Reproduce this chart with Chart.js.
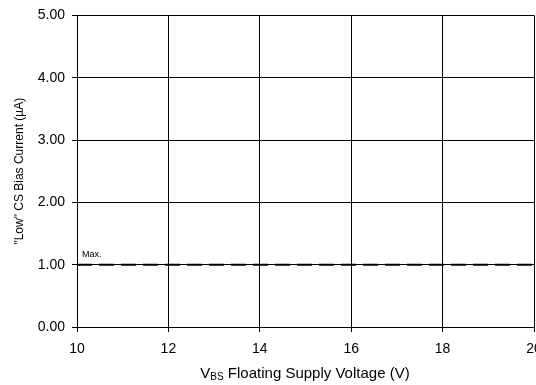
<!DOCTYPE html>
<html lang="en">
<head>
  <meta charset="UTF-8">
  <title>Low CS Bias Current vs VBS</title>
  <script src="https://cdn.jsdelivr.net/npm/chart.js"></script>
  <style>
    html, body { margin: 0; padding: 0; background: #fff; }
    #wrap { width: 536px; height: 385px; }
  </style>
</head>
<body>
<div id="wrap"><canvas id="myChart" width="536" height="385"></canvas></div>
<script>
  // values
  const voltage = [10, 20]
  const maxCurrent = [1.0, 1.0]
  const xTicks = [10, 12, 14, 16, 18, 20]
  const yTicks = [0, 1, 2, 3, 4, 5]
  const lineLabel = "Max."

  const FONT = "'Liberation Sans', Arial, sans-serif"

  // labels that Chart.js can't do on its own (subscript, in-plot note)
  const extraText = {
    id: "extraText",
    afterDraw(chart) {
      const ctx = chart.ctx
      const xs = chart.scales.x
      const ys = chart.scales.y
      ctx.save()
      ctx.fillStyle = "#000"

      // "Max." over the dashed line
      ctx.font = "9px " + FONT
      ctx.textBaseline = "alphabetic"
      ctx.textAlign = "left"
      ctx.fillText(lineLabel, xs.getPixelForValue(voltage[0]) + 5, ys.getPixelForValue(maxCurrent[0]) - 8)

      // x title with subscript
      const big = "15px " + FONT
      const small = "10px " + FONT
      const rest = " Floating Supply Voltage (V)"
      ctx.font = big
      const wV = ctx.measureText("V").width
      const wRest = ctx.measureText(rest).width
      ctx.font = small
      const wSub = ctx.measureText("BS").width
      const total = wV + wSub + wRest
      let x = 305 - total / 2
      const base = 378
      ctx.font = big
      ctx.fillText("V", x, base)
      x += wV
      ctx.font = small
      ctx.fillText("BS", x, base + 2)
      x += wSub
      ctx.font = big
      ctx.fillText(rest, x, base)
      ctx.restore()
    }
  }

  const data = {
    datasets: [{
      label: lineLabel,
      data: voltage.map((v, i) => ({ x: v, y: maxCurrent[i] })),
      borderColor: "#000",
      borderWidth: 2,
      borderDash: [15, 7],
      pointRadius: 0,
      fill: false
    }]
  }

  const config = {
    type: "line",
    data,
    options: {
      responsive: false,
      animation: false,
      layout: { padding: { top: 15, right: 2, left: 0, bottom: 0 } },
      plugins: {
        legend: { display: false },
        tooltip: { enabled: false }
      },
      scales: {
        x: {
          type: "linear",
          min: 10,
          max: 20,
          afterBuildTicks: s => { s.ticks = xTicks.map(v => ({ value: v })) },
          afterFit: s => { s.height = 58; s.paddingLeft = 0; s.paddingRight = 0 },
          grid: { color: "#000", lineWidth: 1, tickLength: 5 },
          border: { color: "#000", width: 1 },
          ticks: {
            color: "#000",
            font: { family: FONT, size: 14 },
            padding: 9,
            maxRotation: 0,
            callback: v => String(v)
          }
        },
        y: {
          min: 0,
          max: 5,
          afterBuildTicks: s => { s.ticks = yTicks.map(v => ({ value: v })) },
          afterFit: s => { s.width = 77 },
          grid: { color: "#000", lineWidth: 1, tickLength: 5 },
          border: { color: "#000", width: 1 },
          ticks: {
            color: "#000",
            font: { family: FONT, size: 14 },
            padding: 7,
            callback: v => Number(v).toFixed(2)
          },
          title: {
            display: true,
            text: "\"Low\" CS Bias Current (\u00b5A)",
            color: "#000",
            font: { family: FONT, size: 12 },
            padding: { top: 12, bottom: 0 }
          }
        }
      }
    },
    plugins: [extraText]
  }

  var myChart = new Chart(document.getElementById("myChart"), config)
</script>
</body>
</html>
